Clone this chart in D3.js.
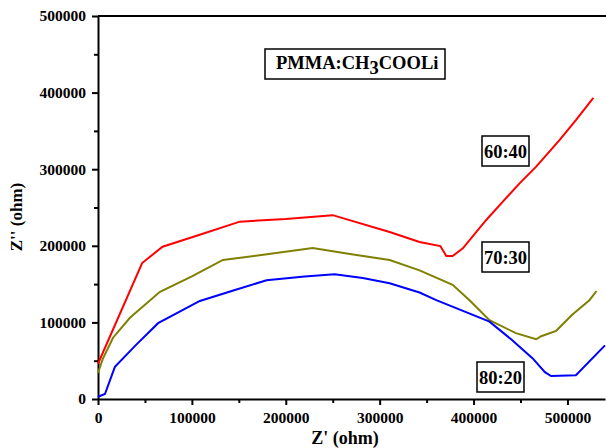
<!DOCTYPE html>
<html>
<head>
<meta charset="utf-8">
<script src="https://cdn.jsdelivr.net/npm/d3@7"></script>
<style>
  body { margin: 0; background: #fff; }
  svg text { font-family: "Liberation Serif", "Times New Roman", serif; font-weight: bold; }
</style>
</head>
<body>
<svg id="chart" width="606" height="448"></svg>
<script>
// Impedance data (Z' , Z'' in ohm)
const red6040 = [
  [0, 46000], [47000, 177500], [68800, 198800], [110000, 215000], [151000, 231500],
  [200000, 235000], [250000, 240000], [310600, 218000], [342500, 205000],
  [364600, 199700], [371000, 186700], [377700, 186700], [388600, 196700],
  [413500, 233700], [431200, 257600], [449000, 281500], [466700, 303300],
  [491500, 338000], [509000, 364000], [527600, 393000]
];
const olive7030 = [
  [0, 34000], [5000, 52000], [16000, 80000], [34000, 106000], [66000, 140000],
  [100000, 160000], [133000, 181500], [180000, 189000], [228700, 197000],
  [270000, 189000], [310600, 181500], [342500, 168000], [377700, 149000],
  [395700, 129000], [417000, 103000], [445000, 86000], [466700, 78000],
  [472000, 82000], [488000, 89000], [505000, 110000], [523400, 129000], [531000, 141000]
];
const blue8020 = [
  [0, 3000], [7400, 6500], [18000, 42000], [40000, 70000], [64000, 99000],
  [108500, 128000], [145000, 142000], [179500, 155000], [220000, 160000],
  [252000, 163000], [282000, 158000], [310600, 151000], [342500, 139000],
  [360300, 129000], [417000, 101000], [440000, 78000], [463000, 53000],
  [476000, 35000], [482600, 30000], [509000, 31000], [540000, 70000]
];
const xTicks = [0, 100000, 200000, 300000, 400000, 500000];
const yTicks = [0, 100000, 200000, 300000, 400000, 500000];
const seriesNames = ["60:40", "70:30", "80:20"];

const svg = d3.select("#chart");

const x = d3.scaleLinear().domain([0, 540000]).range([98, 605]);
const y = d3.scaleLinear().domain([0, 500000]).range([399, 16]);

// minor ticks
const xMinor = d3.range(50000, 540000, 100000);
const yMinor = d3.range(50000, 500000, 100000);

// x axis
const xAxis = svg.append("g")
  .attr("transform", `translate(0, ${y(0)})`)
  .call(d3.axisBottom(x).tickValues(xTicks).tickFormat(d3.format("d")).tickSize(6).tickSizeOuter(0));
svg.append("g")
  .attr("transform", `translate(0, ${y(0)})`)
  .call(d3.axisBottom(x).tickValues(xMinor).tickFormat("").tickSize(4).tickSizeOuter(0))
  .select(".domain").remove();

// y axis
const yAxis = svg.append("g")
  .attr("transform", `translate(${x(0)}, 0)`)
  .call(d3.axisLeft(y).tickValues(yTicks).tickFormat(d3.format("d")).tickSize(6).tickSizeOuter(0));
svg.append("g")
  .attr("transform", `translate(${x(0)}, 0)`)
  .call(d3.axisLeft(y).tickValues(yMinor).tickFormat("").tickSize(4).tickSizeOuter(0))
  .select(".domain").remove();

svg.selectAll(".domain, .tick line").attr("stroke", "#000").attr("stroke-width", 2);
xAxis.selectAll("text").attr("font-size", 15.5).attr("fill", "#000").attr("dy", "0.95em");
yAxis.selectAll("text").attr("font-size", 15.5).attr("fill", "#000").attr("x", -12);

// top border
svg.append("line")
  .attr("x1", x(0)).attr("x2", 606)
  .attr("y1", y(500000)).attr("y2", y(500000))
  .attr("stroke", "#000").attr("stroke-width", 2);

// axis titles
svg.append("text")
  .attr("x", 345).attr("y", 444)
  .attr("text-anchor", "middle")
  .attr("font-size", 18)
  .text("Z' (ohm)");

svg.append("text")
  .attr("transform", "translate(22, 217) rotate(-90)")
  .attr("text-anchor", "middle")
  .attr("font-size", 17)
  .text("Z'' (ohm)");

// lines
const line = d3.line().x((d) => x(d[0])).y((d) => y(d[1]));
const series = [
  { data: red6040, color: "#ff0000" },
  { data: olive7030, color: "#808000" },
  { data: blue8020, color: "#0000ff" }
];
series.forEach((s) => {
  svg.append("path")
    .datum(s.data)
    .attr("fill", "none")
    .attr("stroke", s.color)
    .attr("stroke-width", 2)
    .attr("d", line);
});

// title box
svg.append("rect")
  .attr("x", 265).attr("y", 49).attr("width", 180).attr("height", 30)
  .attr("fill", "#fff").attr("stroke", "#000").attr("stroke-width", 1.5);
const title = svg.append("text")
  .attr("x", 276).attr("y", 69)
  .attr("font-size", 18.5);
title.append("tspan").text("PMMA:CH");
title.append("tspan").attr("dy", 5).text("3");
title.append("tspan").attr("dy", -5).text("COOLi");

// series labels
const labelBoxes = [
  { x: 482, y: 136 },
  { x: 482, y: 242 },
  { x: 477, y: 362 }
];
labelBoxes.forEach((b, i) => {
  svg.append("rect")
    .attr("x", b.x).attr("y", b.y).attr("width", 47).attr("height", 30)
    .attr("fill", "#fff").attr("stroke", "#000").attr("stroke-width", 1.5);
  svg.append("text")
    .attr("x", b.x + 23.5).attr("y", b.y + 22)
    .attr("text-anchor", "middle")
    .attr("font-size", 18.5)
    .text(seriesNames[i]);
});
</script>
</body>
</html>
